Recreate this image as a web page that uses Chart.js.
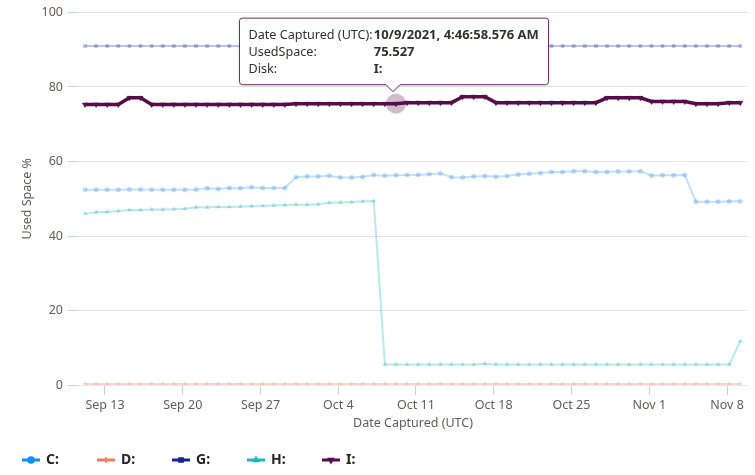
<!DOCTYPE html>
<html><head><meta charset="utf-8">
<script src="https://cdn.jsdelivr.net/npm/chart.js@4/dist/chart.umd.min.js"></script>
<style>html,body{margin:0;padding:0;background:#fff;overflow:hidden}#wrap{width:755px;height:475px;position:relative}</style>
</head><body><div id="wrap"><canvas id="c"></canvas></div>
<script>
// ---- data ----
const dates = [
 '2021-09-11','2021-09-12','2021-09-13','2021-09-14','2021-09-15','2021-09-16','2021-09-17','2021-09-18','2021-09-19','2021-09-20',
 '2021-09-21','2021-09-22','2021-09-23','2021-09-24','2021-09-25','2021-09-26','2021-09-27','2021-09-28','2021-09-29','2021-09-30',
 '2021-10-01','2021-10-02','2021-10-03','2021-10-04','2021-10-05','2021-10-06','2021-10-07','2021-10-08','2021-10-09','2021-10-10',
 '2021-10-11','2021-10-12','2021-10-13','2021-10-14','2021-10-15','2021-10-16','2021-10-17','2021-10-18','2021-10-19','2021-10-20',
 '2021-10-21','2021-10-22','2021-10-23','2021-10-24','2021-10-25','2021-10-26','2021-10-27','2021-10-28','2021-10-29','2021-10-30',
 '2021-10-31','2021-11-01','2021-11-02','2021-11-03','2021-11-04','2021-11-05','2021-11-06','2021-11-07','2021-11-08','2021-11-09'
];
const captureTime = '04:46:58.576';
const tickDates = ['2021-09-13','2021-09-20','2021-09-27','2021-10-04','2021-10-11','2021-10-18','2021-10-25','2021-11-01','2021-11-08'];
const tickLabels = ['Sep 13','Sep 20','Sep 27','Oct 4','Oct 11','Oct 18','Oct 25','Nov 1','Nov 8'];
const yTicks = [0,20,40,60,80,100];
const diskNames = ['C:','D:','G:','H:','I:'];

const cValues = [52.4,52.4,52.4,52.4,52.5,52.5,52.4,52.4,52.4,52.4,
 52.5,52.8,52.6,52.9,52.8,53.1,52.9,52.9,52.9,55.8,
 56.0,56.0,56.2,55.7,55.7,55.9,56.4,56.2,56.3,56.4,
 56.4,56.6,56.8,55.8,55.7,56.0,56.1,55.9,56.1,56.5,
 56.7,56.9,57.2,57.2,57.4,57.4,57.2,57.2,57.3,57.3,
 57.4,56.2,56.3,56.3,56.4,49.2,49.2,49.2,49.3,49.3];
const dValues = [0.3,0.3,0.3,0.3,0.3,0.3,0.3,0.3,0.3,0.3,
 0.3,0.3,0.3,0.3,0.3,0.3,0.3,0.3,0.3,0.3,
 0.3,0.3,0.3,0.3,0.3,0.3,0.3,0.3,0.3,0.3,
 0.3,0.3,0.3,0.3,0.3,0.3,0.3,0.3,0.3,0.3,
 0.3,0.3,0.3,0.3,0.3,0.3,0.3,0.3,0.3,0.3,
 0.3,0.3,0.3,0.3,0.3,0.3,0.3,0.3,0.3,0.3];
const gValues = [91.0,91.0,91.0,91.0,91.0,91.0,91.0,91.0,91.0,91.0,
 91.0,91.0,91.0,91.0,91.0,91.0,91.0,91.0,91.0,91.0,
 91.0,91.0,91.0,91.0,91.0,91.0,91.0,91.0,91.0,91.0,
 91.0,91.0,91.0,91.0,91.0,91.0,91.0,91.0,91.0,91.0,
 91.0,91.0,91.0,91.0,91.0,91.0,91.0,91.0,91.0,91.0,
 91.0,91.0,91.0,91.0,91.0,91.0,91.0,91.0,91.0,91.0];
const hValues = [46.0,46.4,46.5,46.7,47.0,47.0,47.1,47.1,47.2,47.3,
 47.7,47.7,47.8,47.8,47.9,48.0,48.1,48.2,48.3,48.4,
 48.4,48.5,48.9,49.0,49.1,49.3,49.4,5.5,5.5,5.5,
 5.5,5.5,5.5,5.5,5.5,5.5,5.7,5.5,5.5,5.5,
 5.5,5.5,5.5,5.5,5.5,5.5,5.5,5.5,5.5,5.5,
 5.5,5.5,5.5,5.5,5.5,5.5,5.5,5.5,5.5,11.8];
const iValues = [75.3,75.3,75.3,75.3,77.1,77.1,75.3,75.3,75.3,75.3,
 75.3,75.3,75.3,75.3,75.3,75.3,75.3,75.3,75.3,75.5,
 75.5,75.5,75.5,75.5,75.5,75.5,75.5,75.5,75.527,75.8,
 75.8,75.8,75.8,75.8,77.4,77.4,77.4,75.8,75.8,75.8,
 75.8,75.8,75.8,75.8,75.8,75.8,75.8,77.1,77.1,77.1,
 77.1,76.1,76.1,76.1,76.1,75.5,75.5,75.5,75.8,75.8];

const hoverDataset = 4;
const hoverIndex = 28;

// ---- helpers ----
const FONT = "'Segoe UI', 'Noto Sans', 'Open Sans', sans-serif";
const EPOCH = Date.parse('2021-09-13T00:00:00Z');
function toDay(d, t){ return (Date.parse(d + 'T' + (t || '00:00:00') + 'Z') - EPOCH) / 864e5; }
const xs = dates.map(d => toDay(d, captureTime));
const tickVals = tickDates.map(d => toDay(d));
function pts(vals){ return vals.map((v, i) => ({x: xs[i], y: v})); }

const fullColors = ['#118dff', '#ef7d65', '#12239e', '#1ab5c1', '#560d4c'];
const fadedColors = ['rgba(60,150,240,0.3)', 'rgba(239,125,101,0.3)', 'rgba(18,35,158,0.27)', 'rgba(26,181,193,0.3)', '#560d4c'];
const pointStyles = ['circle', 'cross', 'rect', 'triangle', 'triangle'];
const seriesValues = [cValues, dValues, gValues, hValues, iValues];

const datasets = seriesValues.map((vals, k) => ({
  label: diskNames[k],
  data: pts(vals),
  borderColor: fadedColors[k],
  backgroundColor: fadedColors[k],
  pointBackgroundColor: fadedColors[k],
  pointBorderColor: fadedColors[k],
  borderWidth: k === 4 ? 3.5 : 2,
  pointRadius: k === 4 ? 3 : 2.2,
  pointBorderWidth: k === 1 ? 1.2 : 0.5,
  pointStyle: pointStyles[k],
  rotation: k === 4 ? 180 : 0,
  tension: 0,
  order: k === 4 ? 0 : 1
}));

function fmtDate(d, t){
  const [y, m, day] = d.split('-').map(Number);
  let [hh, mm, ss] = t.split(':');
  let h = Number(hh); const ap = h >= 12 ? 'PM' : 'AM'; h = h % 12; if (h === 0) h = 12;
  return m + '/' + day + '/' + y + ', ' + h + ':' + mm + ':' + ss + ' ' + ap;
}

const haloPlugin = {
  id: 'halo',
  beforeDatasetsDraw(chart){
    const el = chart.getDatasetMeta(hoverDataset).data[hoverIndex];
    const ctx = chart.ctx; ctx.save();
    ctx.fillStyle = 'rgba(86,13,76,0.28)';
    ctx.beginPath(); ctx.arc(el.x, el.y, 10, 0, Math.PI * 2); ctx.fill();
    ctx.restore();
  }
};

const tipPlugin = {
  id: 'tip',
  afterDraw(chart){
    const el = chart.getDatasetMeta(hoverDataset).data[hoverIndex];
    const ctx = chart.ctx; ctx.save();
    const labels = ['Date Captured (UTC):', 'UsedSpace:', 'Disk:'];
    const vals = [fmtDate(dates[hoverIndex], captureTime), String(seriesValues[hoverDataset][hoverIndex]), diskNames[hoverDataset]];
    const fN = '12.6px ' + FONT, fB = 'bold 13px ' + FONT;
    ctx.font = fN; const lw = Math.max(...labels.map(s => ctx.measureText(s).width));
    ctx.font = fB; const vw = Math.max(...vals.map(s => ctx.measureText(s).width));
    const padL = 9, padR = 10, lineH = 16.7;
    const w = Math.round(padL + lw + 1 + vw + padR), h = 67;
    const tipX = el.x - 3, tipY = el.y - 12;
    const bottom = tipY - 7, top = bottom - h;
    const left = Math.round(tipX - w / 2 + 1) + 0.5, right = left + w;
    const r = 3;
    ctx.beginPath();
    ctx.moveTo(left + r, top + 0.5);
    ctx.lineTo(right - r, top + 0.5); ctx.quadraticCurveTo(right, top + 0.5, right, top + r);
    ctx.lineTo(right, bottom - r); ctx.quadraticCurveTo(right, bottom, right - r, bottom);
    ctx.lineTo(tipX + 7, bottom); ctx.lineTo(tipX, tipY); ctx.lineTo(tipX - 7, bottom);
    ctx.lineTo(left + r, bottom); ctx.quadraticCurveTo(left, bottom, left, bottom - r);
    ctx.lineTo(left, top + r); ctx.quadraticCurveTo(left, top + 0.5, left + r, top + 0.5);
    ctx.closePath();
    ctx.shadowColor = 'rgba(0,0,0,0.12)'; ctx.shadowBlur = 4; ctx.shadowOffsetY = 1;
    ctx.fillStyle = '#ffffff'; ctx.fill();
    ctx.shadowColor = 'transparent';
    ctx.strokeStyle = 'rgba(86,13,76,0.85)'; ctx.lineWidth = 1; ctx.stroke();
    ctx.textBaseline = 'middle'; ctx.fillStyle = '#323130';
    for (let k = 0; k < 3; k++){
      const y = top + 18 + k * lineH;
      ctx.font = fN; ctx.fillText(labels[k], left + padL, y);
      ctx.font = fB; ctx.fillText(vals[k], left + padL + lw + 1, y);
    }
    ctx.restore();
  }
};

const legendPlugin = {
  id: 'customLegend',
  afterDraw(chart){
    const ctx = chart.ctx; ctx.save();
    const y = 460;
    chart.data.datasets.forEach((ds, k) => {
      const x0 = 22 + k * 75;
      ctx.strokeStyle = fullColors[k]; ctx.fillStyle = fullColors[k];
      ctx.lineWidth = 3; ctx.lineCap = 'butt';
      ctx.beginPath(); ctx.moveTo(x0, y); ctx.lineTo(x0 + 18, y); ctx.stroke();
      if (Chart.helpers && Chart.helpers.drawPoint){
        ctx.lineWidth = 1.5;
        Chart.helpers.drawPoint(ctx, {pointStyle: pointStyles[k], rotation: k === 4 ? 180 : 0, radius: 3, borderWidth: 1.5}, x0 + 9, y);
      }
      ctx.font = 'bold 14px ' + FONT; ctx.fillStyle = '#252423';
      ctx.textBaseline = 'middle';
      ctx.fillText(ds.label, x0 + 24, y + 0.5);
    });
    ctx.restore();
  }
};

const axisFont = {family: FONT, size: 12.5};

new Chart(document.getElementById('c'), {
  type: 'line',
  data: { datasets },
  plugins: [haloPlugin, tipPlugin, legendPlugin],
  options: {
    responsive: true, maintainAspectRatio: false, animation: false, events: [],
    layout: { padding: { left: 0, right: 7, top: 10, bottom: 40 } },
    plugins: { legend: { display: false }, tooltip: { enabled: false } },
    scales: {
      x: {
        type: 'linear', min: -2.43, max: 57.89,
        afterBuildTicks: s => { s.ticks = tickVals.map(v => ({value: v})); },
        afterFit: s => { s.height = 50; },
        ticks: { autoSkip: false, maxRotation: 0, padding: 3, color: '#605e5c', font: axisFont,
          callback: (v) => { const i = tickVals.findIndex(t => Math.abs(t - v) < 1e-6); return i >= 0 ? tickLabels[i] : ''; } },
        grid: { drawOnChartArea: false, drawTicks: true, tickLength: 10, tickColor: '#c8cfe6' },
        border: { display: false },
        title: { display: true, text: 'Date Captured (UTC)', color: '#605e5c', font: axisFont, padding: {top: 4, bottom: 4} }
      },
      y: {
        min: 0, max: 100,
        afterBuildTicks: s => { s.ticks = yTicks.map(v => ({value: v})); },
        afterFit: s => { s.width = 78; },
        ticks: { padding: 5, color: '#605e5c', font: axisFont },
        grid: { color: '#e6e6e6', tickLength: 10, tickColor: '#c8cfe6' },
        border: { display: false },
        title: { display: true, text: 'Used Space %', color: '#605e5c', font: axisFont, padding: {top: 20, bottom: 0} }
      }
    }
  }
});
</script></body></html>
